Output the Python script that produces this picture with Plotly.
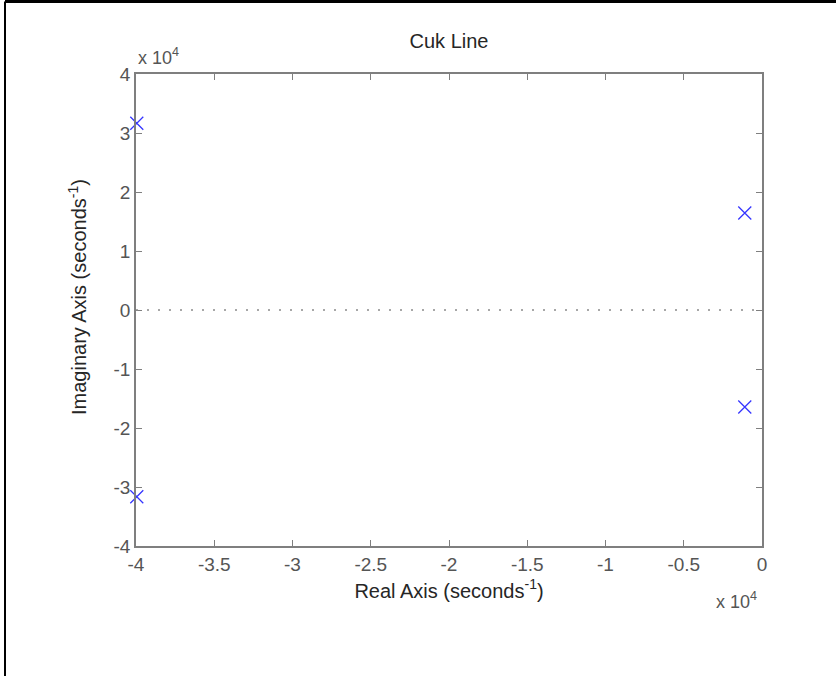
import plotly.graph_objects as go

# Pole locations (seconds^-1)
pole_real = [-39950, -39950, -1100, -1100]
pole_imag = [31650, -31650, 16450, -16450]

x_ticks = [-40000, -35000, -30000, -25000, -20000, -15000, -10000, -5000, 0]
x_ticktext = ["-4", "-3.5", "-3", "-2.5", "-2", "-1.5", "-1", "-0.5", "0"]
y_ticks = [-40000, -30000, -20000, -10000, 0, 10000, 20000, 30000, 40000]
y_ticktext = ["-4", "-3", "-2", "-1", "0", "1", "2", "3", "4"]

AX = "#7f7f7f"
TK = "#555555"
LB = "#262626"
FONT = "Liberation Sans, Arial, sans-serif"

L, R, T, B = 136, 74, 74, 130
W, H = 836, 676
PW, PH = W - L - R, H - T - B

def px_x(x):
    return (x - L) / PW

def px_y(y):
    return (H - B - y) / PH

fig = go.Figure()
fig.add_trace(go.Scatter(
    x=pole_real, y=pole_imag, mode="markers", cliponaxis=False,
    marker=dict(symbol="x-thin", size=13, line=dict(color="#3535ff", width=1.3)),
    showlegend=False, hoverinfo="x+y"))

fig.update_layout(
    width=W, height=H,
    margin=dict(l=L, r=R, t=T, b=B),
    paper_bgcolor="white", plot_bgcolor="white",
    font=dict(family=FONT, size=18, color=TK),
    title=dict(text="Cuk Line", x=(L + PW / 2) / W, xanchor="center",
               y=1 - 41 / H, yanchor="middle",
               font=dict(family=FONT, size=20, color=LB)),
    xaxis=dict(range=[-40000, 0], tickvals=x_ticks, ticktext=x_ticktext,
               showgrid=False, zeroline=False, showline=True, linecolor=AX, linewidth=1.5,
               mirror="ticks", ticks="inside", ticklen=6, tickcolor=AX, tickwidth=1.2,
               tickfont=dict(size=19, color=TK),
               title=dict(text="Real Axis (seconds<sup>-1</sup>)", standoff=10,
                          font=dict(size=20, color=LB))),
    yaxis=dict(range=[-40000, 40000], tickvals=y_ticks, ticktext=y_ticktext,
               showgrid=False, zeroline=False, showline=True, linecolor=AX, linewidth=1.5,
               mirror="ticks", ticks="inside", ticklen=6, tickcolor=AX, tickwidth=1.2,
               tickfont=dict(size=19, color=TK)),
)

# y-axis title as a positioned annotation
fig.add_annotation(text="Imaginary Axis (seconds<sup>-1</sup>)", xref="paper", yref="paper",
                   x=px_x(77), y=px_y(297), xanchor="center", yanchor="middle",
                   textangle=-90, showarrow=False, font=dict(size=20, color=LB))

# dotted zero line
fig.add_shape(type="line", xref="paper", yref="y", x0=0, x1=1, y0=0, y1=0,
              line=dict(color="#8a8a8a", width=1.5, dash="2px,9px"))

# exponent labels
fig.add_annotation(text="x 10<sup>4</sup>", xref="paper", yref="paper",
                   x=px_x(136), y=px_y(56), xanchor="left", yanchor="middle",
                   showarrow=False, font=dict(size=18, color=TK))
fig.add_annotation(text="x 10<sup>4</sup>", xref="paper", yref="paper",
                   x=px_x(759), y=px_y(600), xanchor="right", yanchor="middle",
                   showarrow=False, font=dict(size=18, color=TK))

# figure frame (left and top edges)
fx = px_x(5)
fy = px_y(1.5)
fig.add_shape(type="line", xref="paper", yref="paper", x0=fx, x1=fx, y0=px_y(H + 20), y1=fy,
              line=dict(color="black", width=2))
fig.add_shape(type="line", xref="paper", yref="paper", x0=fx, x1=px_x(W + 20), y0=fy, y1=fy,
              line=dict(color="black", width=3))

fig.write_html("out.html", config={"displayModeBar": False},
               post_script="document.body.style.margin='0';document.body.style.padding='0';")
